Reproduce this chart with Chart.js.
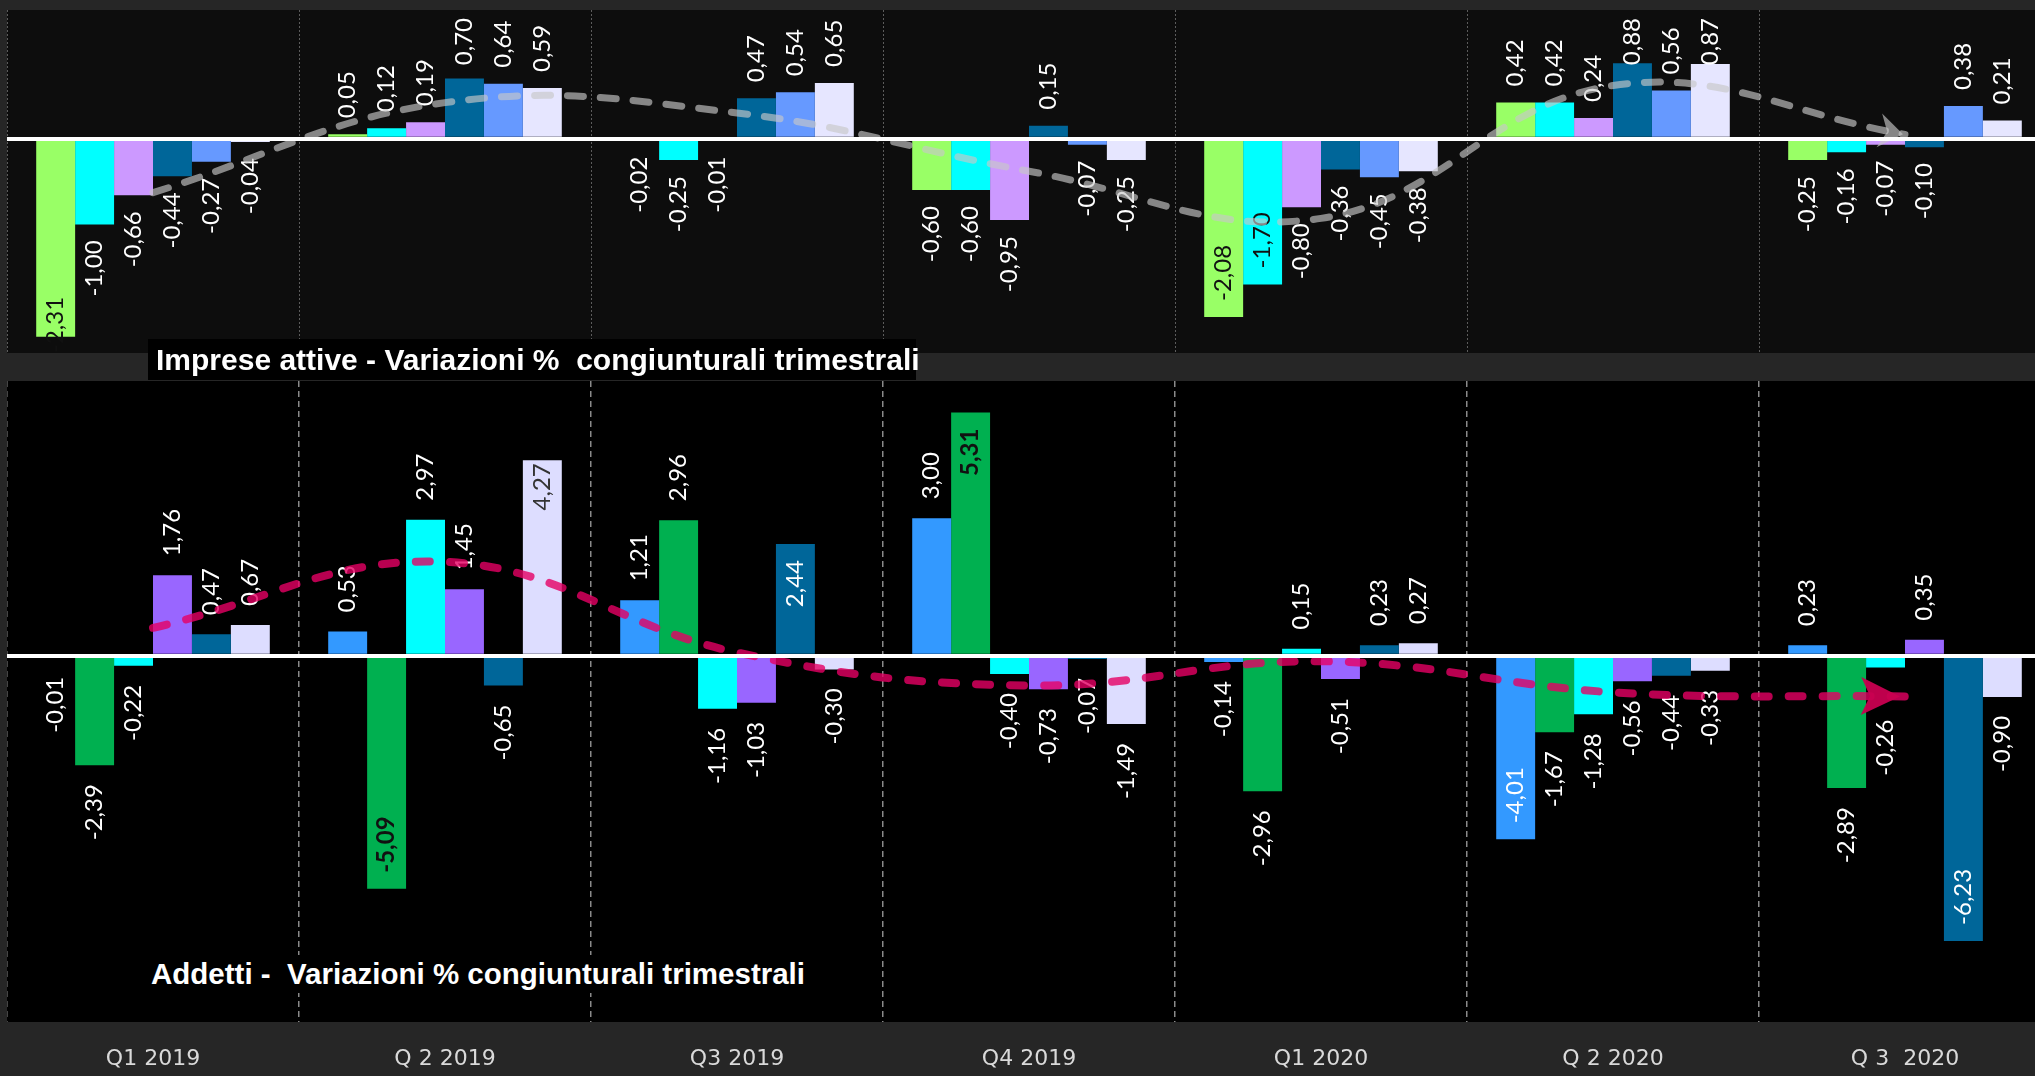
<!DOCTYPE html>
<html>
<head>
<meta charset="utf-8">
<script src="https://cdn.jsdelivr.net/npm/chart.js@4.4.1/dist/chart.umd.min.js"></script>
<style>
  body { margin: 0; background: #262626; width: 2035px; height: 1076px; overflow: hidden; position: relative; }
  .panel { position: absolute; left: 7px; }
  .title { position: absolute; background: #000; color: #fff; font-family: "Liberation Sans Narrow", "Liberation Sans", sans-serif;
           font-weight: bold; font-size: 30px; white-space: pre; box-sizing: border-box; z-index: 5; }
</style>
</head>
<body>
<div class="panel" style="top:10px"><canvas id="chartImprese" width="2044" height="343"></canvas></div>
<div class="panel" style="top:381px"><canvas id="chartAddetti" width="2044" height="695"></canvas></div>
<div class="title" style="left:148px;top:339px;width:768px;height:41px;line-height:41px;padding-left:8px">Imprese attive - Variazioni %  congiunturali trimestrali</div>
<div class="title" style="left:145px;top:955px;width:662px;height:38px;line-height:38px;padding-left:6px;font-size:29.5px">Addetti -  Variazioni % congiunturali trimestrali</div>
<script>
const quarters = ['Q1 2019', 'Q 2 2019', 'Q3 2019', 'Q4 2019', 'Q1 2020', 'Q 2 2020', 'Q 3  2020'];

// Imprese attive - variazioni % congiunturali (6 serie)
const impreseA = [-2.31, 0.05, -0.02, -0.60, -2.08, 0.42, -0.25];
const impreseB = [-1.00, 0.12, -0.25, -0.60, -1.70, 0.42, -0.16];
const impreseC = [-0.66, 0.19, -0.01, -0.95, -0.80, 0.24, -0.07];
const impreseD = [-0.44, 0.70, 0.47, 0.15, -0.36, 0.88, -0.10];
const impreseE = [-0.27, 0.64, 0.54, -0.07, -0.45, 0.56, 0.38];
const impreseF = [-0.04, 0.59, 0.65, -0.25, -0.38, 0.87, 0.21];
const impreseTrend = [-0.63, 0.42, 0.30, -0.38, -0.93, 0.62, 0.05];

// Addetti - variazioni % congiunturali (6 serie)
const addettiA = [-0.01, 0.53, 1.21, 3.00, -0.14, -4.01, 0.23];
const addettiB = [-2.39, -5.09, 2.96, 5.31, -2.96, -1.67, -2.89];
const addettiC = [-0.22, 2.97, -1.16, -0.40, 0.15, -1.28, -0.26];
const addettiD = [1.76, 1.45, -1.03, -0.73, -0.51, -0.56, 0.35];
const addettiE = [0.47, -0.65, 2.44, -0.07, 0.23, -0.44, -6.23];
const addettiF = [0.67, 4.27, -0.30, -1.49, 0.27, -0.33, -0.90];
const addettiTrend = [0.61, 2.05, 0.07, -0.65, -0.12, -0.80, -0.89];

const impreseColors = ['#99FF66', '#00FFFF', '#CC99FF', '#006699', '#6699FF', '#E6E6FF'];
const addettiColors = ['#3399FF', '#00B050', '#00FFFF', '#9966FF', '#006699', '#DDDDFF'];

const DARK = '#111111';

// labels that sit inside the bar end or need another colour ("dataset:category")
const impreseSpecial = {
    '0:0': { color: DARK },
    '0:4': { inside: true, color: DARK },
    '1:4': { inside: true, color: DARK }
};
const addettiSpecial = {
    '1:1': { inside: true, color: DARK, bold: true },
    '1:3': { inside: true, color: DARK, bold: true },
    '4:2': { inside: true },
    '5:1': { inside: true, color: '#333', gapIn: 3 },
    '0:5': { inside: true },
    '4:6': { inside: true },
    '2:6': { gap: 52 }
};

const fmt = v => v.toFixed(2).replace('.', ',');

const panelBg = {
    id: 'panelBg',
    beforeDraw(chart, args, opts) {
        const a = chart.chartArea;
        chart.ctx.save();
        chart.ctx.fillStyle = opts.color;
        chart.ctx.fillRect(a.left, a.top, a.right - a.left, a.bottom - a.top);
        chart.ctx.restore();
    }
};

const barLabels = {
    id: 'barLabels',
    afterDatasetDraw(chart, args, opts) {
        const ds = chart.data.datasets[args.index];
        if (ds.type === 'line') return;
        const ctx = chart.ctx;
        const area = chart.chartArea;
        args.meta.data.forEach((bar, i) => {
            const v = ds.data[i];
            const sp = opts.special[args.index + ':' + i] || {};
            const txt = fmt(v);
            ctx.save();
            ctx.font = (sp.bold ? 'bold ' : '') + opts.size + 'px Lato, sans-serif';
            const w = ctx.measureText(txt).width;
            const top = Math.min(bar.y, bar.base);
            const bottom = Math.max(bar.y, bar.base);
            const gapIn = sp.gapIn !== undefined ? sp.gapIn : 16;
            const gap = sp.gap !== undefined ? sp.gap : opts.gap;
            let start;
            if (sp.inside) {
                start = v >= 0 ? top + gapIn + w : bottom - gapIn;
            } else {
                start = v >= 0 ? top - gap : bottom + gap + w;
            }
            if (start - w < area.top + 8) start = area.top + 8 + w;
            if (start > area.bottom) start = area.bottom;
            ctx.translate(bar.x, start);
            ctx.rotate(-Math.PI / 2);
            ctx.textAlign = 'left';
            ctx.textBaseline = 'middle';
            ctx.fillStyle = sp.color || '#ffffff';
            ctx.fillText(txt, 0, 0);
            ctx.restore();
        });
    }
};

const trendArrow = {
    id: 'trendArrow',
    afterDatasetsDraw(chart, args, opts) {
        const idx = chart.data.datasets.findIndex(d => d.type === 'line');
        const pts = chart.getDatasetMeta(idx).data;
        const p = pts[pts.length - 1];
        const q = pts[pts.length - 2];
        const ang = Math.atan2(p.y - q.y, p.x - q.x);
        const ctx = chart.ctx;
        ctx.save();
        ctx.translate(p.x + opts.shift, p.y);
        ctx.rotate(ang);
        ctx.beginPath();
        ctx.moveTo(0, 0);
        ctx.lineTo(-opts.len, -opts.half);
        ctx.lineTo(-opts.len + opts.notch, 0);
        ctx.lineTo(-opts.len, opts.half);
        ctx.closePath();
        ctx.fillStyle = opts.color;
        ctx.fill();
        ctx.restore();
    }
};

function barSets(series, colors) {
    return series.map((s, k) => ({
        data: s,
        backgroundColor: colors[k],
        borderWidth: 0,
        barPercentage: 1,
        categoryPercentage: 0.8,
        order: 1
    }));
}

function buildChart(id, cfg) {
    const ctx = document.getElementById(id).getContext('2d');
    return new Chart(ctx, {
        type: 'bar',
        data: {
            labels: quarters,
            datasets: barSets(cfg.series, cfg.colors).concat([{
                type: 'line',
                data: cfg.trend,
                borderColor: cfg.trendColor,
                borderWidth: cfg.trendWidth,
                borderDash: cfg.trendDash,
                borderCapStyle: 'round',
                tension: 0.4,
                pointRadius: 0,
                fill: false,
                order: 0
            }])
        },
        options: {
            responsive: false,
            animation: false,
            devicePixelRatio: 1,
            layout: { padding: 0 },
            events: [],
            scales: {
                x: {
                    grid: { color: cfg.gridColor, lineWidth: cfg.gridWidth, drawTicks: false },
                    border: { display: false, dash: cfg.gridDash },
                    ticks: {
                        display: cfg.showTicks,
                        autoSkip: false,
                        maxRotation: 0,
                        padding: 24,
                        color: '#d9d9d9',
                        font: { family: 'DejaVu Sans', size: 22 }
                    },
                    afterFit: s => { s.height = cfg.axisHeight; }
                },
                y: {
                    min: cfg.min,
                    max: cfg.max,
                    ticks: { display: false, stepSize: cfg.step },
                    grid: {
                        color: c => c.tick && c.tick.value === 0 ? '#ffffff' : 'rgba(0,0,0,0)',
                        lineWidth: 4,
                        drawTicks: false,
                        z: 1
                    },
                    border: { display: false },
                    afterFit: s => { s.width = 0; }
                }
            },
            plugins: {
                legend: { display: false },
                tooltip: { enabled: false },
                panelBg: { color: cfg.bg },
                barLabels: { special: cfg.special, gap: cfg.gap, size: 24 },
                trendArrow: cfg.arrow
            }
        },
        plugins: [panelBg, barLabels, trendArrow]
    });
}

buildChart('chartImprese', {
    series: [impreseA, impreseB, impreseC, impreseD, impreseE, impreseF],
    colors: impreseColors,
    trend: impreseTrend,
    trendColor: 'rgba(200,200,200,0.65)',
    trendWidth: 7,
    trendDash: [16, 17],
    min: -2.5, max: 1.5, step: 0.5,
    bg: '#0d0d0d',
    gridColor: '#5c5c5c', gridWidth: 1, gridDash: [2, 2],
    showTicks: false, axisHeight: 0,
    special: impreseSpecial, gap: 16,
    arrow: { color: 'rgba(200,200,200,0.65)', len: 24, half: 17, notch: 8, shift: -2 }
});

buildChart('chartAddetti', {
    series: [addettiA, addettiB, addettiC, addettiD, addettiE, addettiF],
    colors: addettiColors,
    trend: addettiTrend,
    trendColor: 'rgba(230,0,100,0.8)',
    trendWidth: 8,
    trendDash: [14, 20],
    min: -8, max: 6, step: 1,
    bg: '#000000',
    gridColor: '#8a8a8a', gridWidth: 1.5, gridDash: [6, 4],
    showTicks: true, axisHeight: 54,
    special: addettiSpecial, gap: 19,
    arrow: { color: 'rgba(200,0,80,0.95)', len: 39, half: 19, notch: 9, shift: -5 }
});
</script>
</body>
</html>
